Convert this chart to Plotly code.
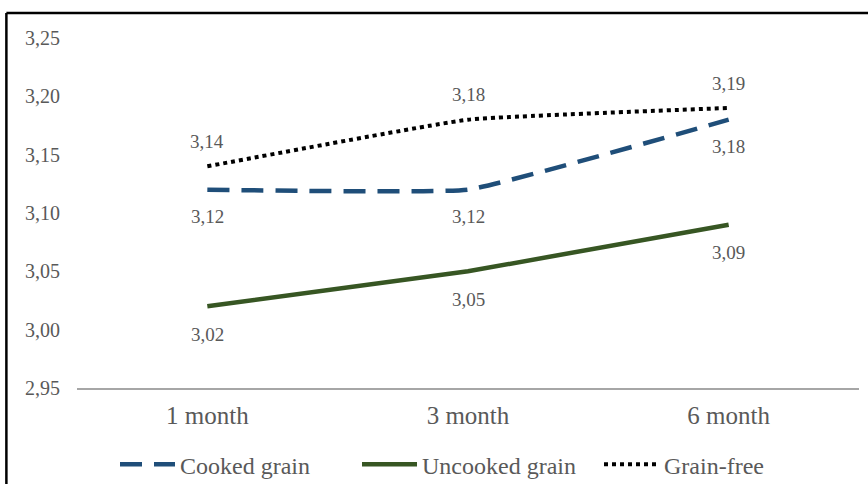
import plotly.graph_objects as go

periods = ["1 month", "3 month", "6 month"]
cooked = [3.12, 3.12, 3.18]
uncooked = [3.02, 3.05, 3.09]
grain_free = [3.14, 3.18, 3.19]

y_ticks = [2.95, 3.00, 3.05, 3.10, 3.15, 3.20, 3.25]

series = [
    dict(name="Cooked grain", y=cooked, color="#1F4E79", dash="22px,12px", width=4.5, label_shift=-27),
    dict(name="Uncooked grain", y=uncooked, color="#375623", dash="solid", width=4.5, label_shift=-28),
    dict(name="Grain-free", y=grain_free, color="#000000", dash="dot", width=4, label_shift=25),
]

fig = go.Figure()
annotations = []
for s in series:
    fig.add_trace(go.Scatter(
        x=periods, y=s["y"], name=s["name"], mode="lines",
        line=dict(color=s["color"], dash=s["dash"], width=s["width"], shape="spline", smoothing=0.3),
    ))
    for xv, yv in zip(periods, s["y"]):
        annotations.append(dict(
            x=xv, y=yv, xref="x", yref="y", text=f"{yv:.2f}".replace(".", ","),
            showarrow=False, yshift=s["label_shift"],
            font=dict(family="Liberation Serif", size=19, color="#595959"),
        ))

# outer frame (top and left edges)
shapes = [
    dict(type="line", xref="paper", yref="paper", x0=-0.0903, x1=1.2, y0=1.0714, y1=1.0714,
         line=dict(color="#000000", width=2.5)),
    dict(type="line", xref="paper", yref="paper", x0=-0.0903, x1=-0.0903, y0=1.0714, y1=-0.5,
         line=dict(color="#000000", width=2.5)),
]

fig.update_layout(
    width=868, height=484,
    margin=dict(l=77, r=9, t=38, b=96, autoexpand=False),
    paper_bgcolor="white", plot_bgcolor="white",
    separators=", ",
    font=dict(family="Liberation Serif", color="#595959"),
    showlegend=True,
    legend=dict(orientation="h", xref="container", x=0.1325, xanchor="left",
                yref="container", y=0.04, yanchor="middle",
                font=dict(size=24, color="#595959"), itemwidth=55, entrywidth=172,
                entrywidthmode="pixels", traceorder="normal"),
    annotations=annotations,
    shapes=shapes,
)
fig.update_xaxes(
    showgrid=False, showline=True, linecolor="#A6A6A6", linewidth=1.5,
    ticks="", tickfont=dict(size=25, color="#595959"), ticklabelstandoff=4,
    range=[-0.5, 2.5], zeroline=False,
)
fig.update_yaxes(
    range=[2.95, 3.25], tickvals=y_ticks, tickformat=".2f",
    showgrid=False, zeroline=False, showline=False, ticks="",
    tickfont=dict(size=20, color="#595959"), ticklabelstandoff=16,
)

fig.write_html("out.html")
